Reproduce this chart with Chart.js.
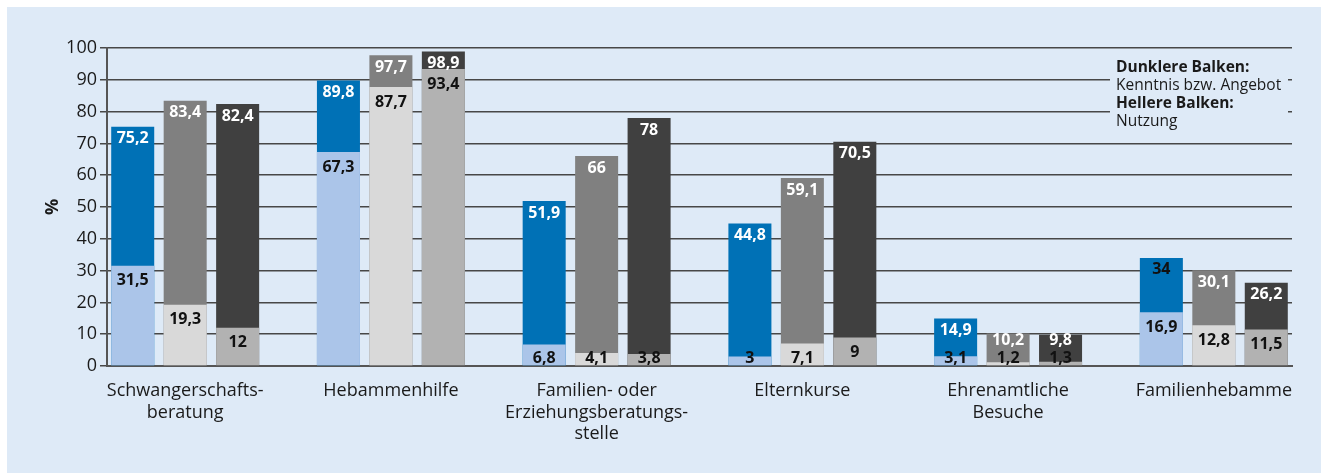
<!DOCTYPE html>
<html>
<head>
<meta charset="utf-8">
<script src="https://cdn.jsdelivr.net/npm/chart.js@4.4.1/dist/chart.umd.min.js"></script>
<style>
html,body{margin:0;padding:0;background:#fff;}
#wrap{width:1321px;height:473px;}
</style>
</head>
<body>
<div id="wrap"><canvas id="c" width="1321" height="473"></canvas></div>
<script>
const categories = [
  ["Schwangerschafts-", "beratung"],
  ["Hebammenhilfe"],
  ["Familien- oder", "Erziehungsberatungs-", "stelle"],
  ["Elternkurse"],
  ["Ehrenamtliche", "Besuche"],
  ["Familienhebamme"]
];
const knowledgeBlue = [75.2, 89.8, 51.9, 44.8, 14.9, 34];
const usageBlue     = [31.5, 67.3, 6.8, 3, 3.1, 16.9];
const knowledgeGrey = [83.4, 97.7, 66, 59.1, 10.2, 30.1];
const usageGrey     = [19.3, 87.7, 4.1, 7.1, 1.2, 12.8];
const knowledgeDark = [82.4, 98.9, 78, 70.5, 9.8, 26.2];
const usageDark     = [12, 93.4, 3.8, 9, 1.3, 11.5];
const yTicks = [0, 10, 20, 30, 40, 50, 60, 70, 80, 90, 100];
const legendLines = [
  {text: "Dunklere Balken:", bold: true},
  {text: "Kenntnis bzw. Angebot", bold: false},
  {text: "Hellere Balken:", bold: true},
  {text: "Nutzung", bold: false}
];

const FONT = "'Open Sans', 'Noto Sans', sans-serif";
const PANEL = '#deeaf7';

function pts(arr){ return arr.map((v,i)=>({x:i, y:v})); }

const datasets = [
  {label:'Nutzung 1', data: pts(usageBlue), stack:'a', backgroundColor:'#abc5e9', kind:'light'},
  {label:'Nutzung 2', data: pts(usageGrey), stack:'b', backgroundColor:'#d9d9d9', kind:'light'},
  {label:'Nutzung 3', data: pts(usageDark), stack:'c', backgroundColor:'#b2b2b2', kind:'light'},
  {label:'Kenntnis 1', data: pts(knowledgeBlue), stack:'a', backgroundColor:'#0071b6', kind:'dark', pair:0, textColors:['#fff','#fff','#fff','#fff','#fff','#111']},
  {label:'Kenntnis 2', data: pts(knowledgeGrey), stack:'b', backgroundColor:'#808080', kind:'dark', pair:1},
  {label:'Kenntnis 3', data: pts(knowledgeDark), stack:'c', backgroundColor:'#404040', kind:'dark', pair:2}
];

const fmt = v => String(v).replace('.', ',');

const bgPlugin = {
  id:'bg',
  beforeDraw(chart){
    const ctx = chart.ctx;
    ctx.save();
    ctx.fillStyle = '#ffffff';
    ctx.fillRect(0,0,chart.width,chart.height);
    ctx.fillStyle = PANEL;
    ctx.fillRect(7,7,chart.width-7,chart.height-7);
    ctx.restore();
  },
  beforeDatasetsDraw(chart){
    const ctx = chart.ctx;
    ctx.save();
    ctx.fillStyle = PANEL;
    ctx.fillRect(1110,55,178,80);
    ctx.restore();
  },
  afterDraw(chart){
    const ctx = chart.ctx;
    ctx.save();
    ctx.fillStyle = '#1a1a1a';
    ctx.textAlign = 'left';
    ctx.textBaseline = 'alphabetic';
    legendLines.forEach((l,i)=>{
      ctx.font = (l.bold ? 'bold ' : '') + '15.5px ' + FONT;
      ctx.fillText(l.text, 1116, 72 + i*18);
    });
    ctx.restore();
  }
};

const labelPlugin = {
  id:'vals',
  afterDatasetsDraw(chart){
    const ctx = chart.ctx;
    ctx.save();
    ctx.font = 'bold 16px ' + FONT;
    ctx.textAlign = 'center';
    ctx.textBaseline = 'middle';
    const lightY = [];
    chart.data.datasets.forEach((ds, di)=>{
      if (ds.kind !== 'light') return;
      const meta = chart.getDatasetMeta(di);
      lightY[di] = [];
      meta.data.forEach((el, i)=>{
        const y = Math.min(el.y + 15, el.base - 7);
        lightY[di][i] = y;
        ctx.fillStyle = '#111';
        ctx.fillText(fmt(ds.data[i].y), el.x, y);
      });
    });
    chart.data.datasets.forEach((ds, di)=>{
      if (ds.kind !== 'dark') return;
      const meta = chart.getDatasetMeta(di);
      meta.data.forEach((el, i)=>{
        const y = Math.min(el.y + 12, lightY[ds.pair][i] - 18);
        ctx.fillStyle = ds.textColors ? ds.textColors[i] : '#fff';
        ctx.fillText(fmt(ds.data[i].y), el.x, y);
      });
    });
    ctx.restore();
  }
};

new Chart(document.getElementById('c'), {
  type:'bar',
  data:{ datasets },
  options:{
    responsive:false,
    animation:false,
    events:[],
    categoryPercentage:0.765,
    barPercentage:0.82,
    layout:{ padding:{ left:42, right:29, top:48, bottom:0 } },
    plugins:{ legend:{display:false}, tooltip:{enabled:false} },
    scales:{
      x:{
        type:'linear',
        stacked:true,
        offset:false,
        min:-0.38,
        max:5.38,
        grid:{ display:false, offset:false },
        border:{ display:true, color:'#555', width:2 },
        afterFit(s){ s.height = 107; },
        ticks:{
          stepSize:1,
          includeBounds:false,
          autoSkip:false,
          maxRotation:0,
          padding:6,
          color:'#1a1a1a',
          font:{ family:FONT, size:18, lineHeight:1.2 },
          callback:(v)=> categories[v] !== undefined ? categories[v] : ''
        }
      },
      y:{
        stacked:false,
        min:0,
        max:100,
        afterBuildTicks(s){ s.ticks = yTicks.map(v=>({value:v})); },
        afterFit(s){ s.width = 65; },
        grid:{ color:'#474747', lineWidth:1.5, tickLength:7, drawTicks:true },
        border:{ display:true, color:'#555', width:2 },
        ticks:{ padding:3, color:'#1a1a1a', font:{ family:FONT, size:18 } },
        title:{ display:true, text:'%', color:'#1a1a1a', font:{ family:FONT, size:18, weight:'bold' }, padding:{top:0,bottom:8} }
      }
    }
  },
  plugins:[bgPlugin, labelPlugin]
});
</script>
</body>
</html>
